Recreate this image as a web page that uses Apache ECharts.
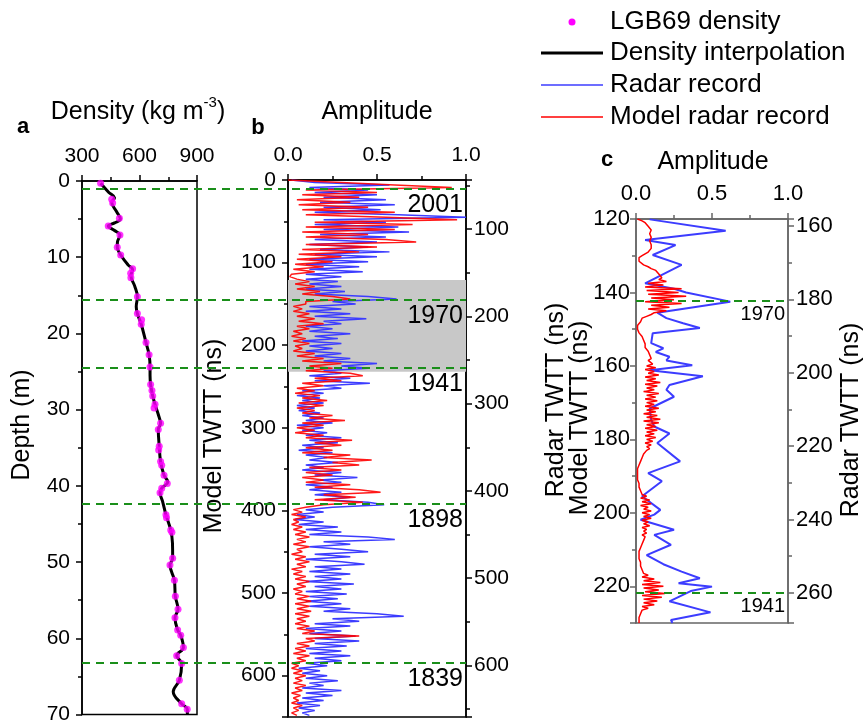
<!DOCTYPE html>
<html><head><meta charset="utf-8">
<script src="https://cdn.jsdelivr.net/npm/echarts@6/dist/echarts.min.js"></script>
<style>html,body{margin:0;padding:0;background:#fff}#chart{width:866px;height:725px}</style>
</head><body><div id="chart"></div>
<script>
const FONT = '"Liberation Sans", Arial, sans-serif';

// ---------- Panel a: density ----------
const dotDensity = [397,455,460,495,437,498,484,502,564,554,555,589,589,611,609,634,650,655,658,665,669,681,676,710,698,703,700,710,716,728,745,716,707,738,741,763,769,773,759,782,787,801,785,799,815,829,794,820,808,820,849];
const dotDepth   = [0.3,2.4,2.9,4.9,5.9,7.1,8.7,9.7,11.5,12.1,12.7,15.2,17.4,18.2,18.8,21.2,22.8,24.4,26.7,27.5,28.2,29.3,29.8,31.8,32.6,34.8,35.3,36.8,37.3,38.6,39.7,40.3,40.9,43.8,44.2,45.8,46.1,49.5,50.4,52.4,54.5,56.2,57.3,58.9,59.6,61.2,62.3,63.3,65.5,68.6,69.3];
const lineDensity = [397,440,470,455,480,500,470,437,470,498,485,484,502,540,564,555,575,589,583,589,609,634,650,655,655,658,669,681,700,710,698,703,710,728,748,716,707,720,738,763,772,773,759,782,787,801,785,799,815,829,794,820,808,776,820,849,850];
const lineDepth   = [0.3,1.5,2.2,2.8,4.0,5.0,5.5,5.9,6.5,7.1,8.0,8.7,9.7,11.0,11.6,12.4,13.8,15.2,16.5,17.4,18.8,21.2,22.8,24.4,25.5,26.7,28.2,29.3,30.8,31.8,32.6,34.8,36.8,38.6,39.5,40.3,40.9,42.0,43.8,45.8,47.5,49.5,50.4,52.4,54.5,56.2,57.3,58.9,59.6,61.2,62.3,63.3,65.5,67.0,68.6,69.3,70.0];

// ---------- Panel b: amplitude vs model TWTT (sampled every 3 ns from 0 ns) ----------
const bTimeStep = 3;
const bRadar = [
 0.02,0.15,0.57,0.12,0.45,0.15,0.5,0.2,0.55,0.18,
 0.6,0.2,0.52,0.15,0.62,1.0,0.2,0.55,0.15,0.62,
 0.2,0.68,0.18,0.55,0.15,0.5,0.12,0.45,0.18,0.57,
 0.15,0.5,0.12,0.45,0.1,0.4,0.12,0.42,0.1,0.3,
 0.1,0.28,0.12,0.3,0.1,0.32,0.15,0.45,0.61,0.25,
 0.38,0.12,0.3,0.1,0.35,0.15,0.44,0.2,0.3,0.1,
 0.25,0.12,0.35,0.15,0.28,0.08,0.3,0.12,0.25,0.1,
 0.3,0.15,0.35,0.2,0.5,0.3,0.45,0.2,0.3,0.12,
 0.35,0.15,0.46,0.2,0.3,0.08,0.2,0.05,0.18,0.08,
 0.2,0.05,0.15,0.06,0.18,0.08,0.2,0.1,0.25,0.05,
 0.2,0.08,0.22,0.1,0.3,0.12,0.28,0.08,0.2,0.06,
 0.25,0.1,0.22,0.12,0.28,0.1,0.2,0.08,0.3,0.15,
 0.39,0.18,0.3,0.1,0.25,0.12,0.3,0.15,0.35,0.2,
 0.45,0.54,0.25,0.1,0.2,0.05,0.15,0.04,0.2,0.06,
 0.28,0.1,0.3,0.12,0.45,0.6,0.2,0.35,0.12,0.3,
 0.45,0.15,0.35,0.1,0.3,0.43,0.15,0.3,0.12,0.35,
 0.15,0.3,0.1,0.37,0.15,0.3,0.1,0.33,0.12,0.28,
 0.1,0.3,0.12,0.35,0.2,0.5,0.65,0.25,0.4,0.15,
 0.35,0.1,0.3,0.12,0.38,0.15,0.4,0.15,0.33,0.1,
 0.3,0.12,0.35,0.15,0.3,0.1,0.22,0.06,0.18,0.08,
 0.22,0.1,0.28,0.12,0.2,0.08,0.3,0.1,0.25,0.08,
 0.2,0.05,0.18,0.06,0.15,0.08,0.12];
const bModel = [
 0.0,0.3,0.6,0.92,0.1,0.5,0.08,0.4,0.05,0.35,
 0.06,0.45,0.08,0.6,0.1,0.55,0.95,0.15,0.7,0.1,
 0.6,0.08,0.45,0.1,0.55,0.72,0.1,0.5,0.08,0.4,
 0.06,0.3,0.05,0.25,0.04,0.2,0.03,0.15,0.02,0.01,
 0.05,0.12,0.04,0.15,0.05,0.18,0.08,0.25,0.35,0.1,
 0.1,0.03,0.08,0.03,0.12,0.05,0.15,0.06,0.2,0.05,
 0.12,0.03,0.08,0.02,0.1,0.03,0.12,0.04,0.08,0.03,
 0.15,0.05,0.2,0.08,0.3,0.12,0.25,0.1,0.35,0.42,
 0.15,0.3,0.08,0.2,0.05,0.15,0.04,0.18,0.08,0.22,
 0.06,0.2,0.05,0.15,0.08,0.25,0.12,0.32,0.08,0.2,
 0.05,0.15,0.04,0.2,0.1,0.36,0.15,0.3,0.1,0.25,
 0.08,0.35,0.2,0.47,0.25,0.4,0.12,0.3,0.1,0.25,
 0.08,0.2,0.1,0.35,0.15,0.4,0.52,0.2,0.38,0.15,
 0.42,0.2,0.1,0.03,0.08,0.02,0.1,0.03,0.06,0.02,
 0.08,0.03,0.1,0.04,0.12,0.05,0.1,0.03,0.12,0.05,
 0.08,0.02,0.1,0.04,0.12,0.05,0.1,0.02,0.08,0.03,
 0.1,0.04,0.12,0.05,0.1,0.03,0.08,0.04,0.12,0.05,
 0.13,0.04,0.12,0.05,0.13,0.04,0.12,0.05,0.1,0.04,
 0.12,0.05,0.15,0.08,0.4,0.1,0.15,0.05,0.12,0.04,
 0.1,0.03,0.12,0.05,0.1,0.02,0.06,0.02,0.08,0.03,
 0.1,0.04,0.08,0.03,0.1,0.04,0.08,0.02,0.07,0.03,
 0.06,0.02,0.08,0.03,0.06,0.02,0.05];

// ---------- Panel c: zoom 120-230 ns ----------
const cRadarTime = [120.1,123.2,125.7,127.1,129.8,132.5,137.5,139,140,142.5,145.5,147,148.4,149.7,151.1,153.8,155.2,156.2,157.5,158.5,159.8,161.2,162.8,165.2,166.5,168.4,171.6,174.7,176.5,178.4,181,186,189.2,191.4,195.5,199.2,200.5,201.9,204.6,206,208.7,211.5,214,216,217.8,219.2,220.1,221.3,224.1,227.1,229.2,230];
const cRadarAmp  = [0.09,0.59,0.06,0.26,0.11,0.3,0.06,0.25,0.33,0.62,0.14,0.2,0.31,0.42,0.11,0.1,0.18,0.13,0.22,0.2,0.37,0.09,0.44,0.22,0.2,0.25,0.09,0.1,0.12,0.22,0.14,0.29,0.08,0.17,0.04,0.16,0.12,0.03,0.25,0.12,0.23,0.07,0.18,0.3,0.42,0.28,0.5,0.36,0.22,0.49,0.23,0.24];
const cModelStart = 120, cModelStep = 0.5;
const cModelAmp = [
 0.01,0.04,0.06,0.07,0.08,0.09,0.1,0.09,0.09,0.1,
 0.1,0.09,0.09,0.1,0.1,0.11,0.1,0.09,0.08,0.06,
 0.04,0.02,0.01,0.02,0.03,0.05,0.08,0.1,0.13,0.14,
 0.15,0.16,0.17,0.15,0.2,0.08,0.18,0.06,0.3,0.07,
 0.28,0.08,0.33,0.1,0.25,0.06,0.3,0.1,0.22,0.08,
 0.2,0.12,0.1,0.07,0.04,0.03,0.03,0.02,0.01,0.01,
 0.01,0.01,0.02,0.03,0.04,0.04,0.05,0.05,0.06,0.06,
 0.06,0.07,0.08,0.08,0.09,0.09,0.1,0.08,0.09,0.11,
 0.07,0.13,0.06,0.12,0.08,0.15,0.06,0.13,0.07,0.16,
 0.06,0.14,0.07,0.12,0.05,0.15,0.07,0.13,0.06,0.14,
 0.07,0.12,0.06,0.15,0.07,0.13,0.05,0.14,0.07,0.16,
 0.05,0.15,0.07,0.13,0.06,0.14,0.07,0.12,0.06,0.13,
 0.07,0.11,0.06,0.1,0.07,0.09,0.07,0.06,0.05,0.04,
 0.04,0.03,0.03,0.02,0.02,0.02,0.01,0.01,0.01,0.01,
 0.01,0.01,0.01,0.02,0.02,0.02,0.02,0.03,0.03,0.04,
 0.04,0.07,0.03,0.09,0.04,0.1,0.03,0.08,0.05,0.1,
 0.04,0.09,0.05,0.1,0.04,0.08,0.05,0.09,0.04,0.07,
 0.05,0.07,0.04,0.06,0.05,0.05,0.04,0.04,0.03,0.03,
 0.02,0.02,0.02,0.02,0.02,0.02,0.02,0.03,0.03,0.03,
 0.03,0.04,0.04,0.05,0.08,0.04,0.12,0.05,0.16,0.04,
 0.18,0.05,0.15,0.06,0.19,0.04,0.17,0.05,0.14,0.05,
 0.12,0.04,0.08,0.04,0.05,0.03,0.03,0.02,0.02,0.02,
 0.02];

// ---------- annotations ----------
const markerDepths = [1.0, 15.5, 24.3, 42.1, 62.8];
const markerYearsB = ['2001','1970','1941','1898','1839'];
const shadedRange = [121, 232];
const cMarkerTimes = [142.3, 221.8];
const cMarkerYears = ['1970','1941'];

const GREEN = '#1a8f1a', BLUE = '#3c3cff', RED = '#ff0000';

function ax(color, extra) {
  const base = {
    type: 'value',
    axisLine: {show: true, onZero: false, lineStyle: {color: color, width: 1.5}},
    axisTick: {show: true, inside: false, length: 6, lineStyle: {color: color, width: 1.5}},
    minorTick: {show: true, splitNumber: 2, length: 4, lineStyle: {color: color, width: 1.5}},
    splitLine: {show: false}, minorSplitLine: {show: false},
    axisLabel: {color: '#000', fontSize: 21, fontFamily: FONT}
  };
  const o = Object.assign({}, base, extra);
  if (extra.axisLabel) o.axisLabel = Object.assign({}, base.axisLabel, extra.axisLabel);
  return o;
}
const ampFmt = v => v.toFixed(1);

const chart = echarts.init(document.getElementById('chart'), null, {renderer: 'canvas'});

const option = {
  animation: false,
  backgroundColor: '#fff',
  grid: [
    {left: 82, top: 181, width: 115, height: 537, show: true, borderColor: '#000', borderWidth: 1.5, backgroundColor: 'transparent'},
    {left: 288, top: 180, width: 178, height: 537, show: true, borderColor: '#000', borderWidth: 1.5, backgroundColor: 'transparent'},
    {left: 636, top: 219, width: 152, height: 404, show: true, borderColor: '#666', borderWidth: 1.5, backgroundColor: 'transparent'},
    {left: 82, top: 181, width: 384, height: 537, show: false}
  ],
  xAxis: [
    ax('#000', {gridIndex: 0, position: 'top', min: 300, max: 900, interval: 300, axisLabel: {margin: 14}}),
    ax('#000', {gridIndex: 1, position: 'top', min: 0, max: 1, interval: 0.5, axisLabel: {margin: 14, formatter: ampFmt}}),
    ax('#666', {gridIndex: 2, position: 'top', min: 0, max: 1, interval: 0.5, axisLabel: {margin: 14, fontSize: 22, formatter: ampFmt}}),
    {gridIndex: 3, type: 'value', min: 0, max: 1, show: false}
  ],
  yAxis: [
    ax('#000', {gridIndex: 0, position: 'left', inverse: true, min: 0, max: 70, interval: 10, axisLabel: {margin: 12}}),
    ax('#000', {gridIndex: 1, position: 'left', inverse: true, min: 0, max: 650, interval: 100, axisLabel: {margin: 12, showMaxLabel: false}}),
    ax('#000', {gridIndex: 1, position: 'right', inverse: true, min: 43.8, max: 659, axisLabel: {margin: 8, showMinLabel: false, showMaxLabel: false}}),
    ax('#666', {gridIndex: 2, position: 'left', inverse: true, min: 120, max: 230, interval: 20, axisLabel: {margin: 6, fontSize: 22, showMaxLabel: false}}),
    ax('#666', {gridIndex: 2, position: 'right', inverse: true, min: 158.1, max: 268.2, axisLabel: {margin: 8, fontSize: 22, showMinLabel: false, showMaxLabel: false}}),
    {gridIndex: 3, type: 'value', inverse: true, min: 0, max: 70, show: false}
  ],
  series: [
    {type: 'line', xAxisIndex: 0, yAxisIndex: 0, z: 2, showSymbol: false, smooth: 0.4,
     lineStyle: {color: '#000', width: 3}, itemStyle: {color: '#000'},
     data: lineDensity.map((v, i) => [v, lineDepth[i]])},
    {type: 'scatter', xAxisIndex: 0, yAxisIndex: 0, z: 3, symbolSize: 7,
     itemStyle: {color: '#ff00ff'},
     data: dotDensity.map((v, i) => [v, dotDepth[i]])},
    {type: 'line', xAxisIndex: 1, yAxisIndex: 1, z: 1, data: [], showSymbol: false,
     markArea: {silent: true, itemStyle: {color: '#c8c8c8'},
       data: [[{yAxis: shadedRange[0]}, {yAxis: shadedRange[1]}]]}},
    {type: 'line', xAxisIndex: 1, yAxisIndex: 1, z: 3, showSymbol: false,
     lineStyle: {color: BLUE, width: 1.5}, itemStyle: {color: BLUE},
     data: bRadar.map((v, i) => [v, i * bTimeStep])},
    {type: 'line', xAxisIndex: 1, yAxisIndex: 1, z: 4, showSymbol: false,
     lineStyle: {color: RED, width: 1.5, opacity: 0.9}, itemStyle: {color: RED},
     data: bModel.map((v, i) => [v, i * bTimeStep])},
    {type: 'line', xAxisIndex: 2, yAxisIndex: 3, z: 3, showSymbol: false,
     lineStyle: {color: BLUE, width: 2}, itemStyle: {color: BLUE},
     data: cRadarAmp.map((v, i) => [v, cRadarTime[i]])},
    {type: 'line', xAxisIndex: 2, yAxisIndex: 3, z: 4, showSymbol: false,
     lineStyle: {color: RED, width: 1.5}, itemStyle: {color: RED},
     data: cModelAmp.map((v, i) => [v, cModelStart + i * cModelStep]),
     markLine: {silent: true, symbol: ['none', 'none'],
       lineStyle: {color: GREEN, width: 2, type: [8, 6]},
       label: {show: true, position: 'insideEndBottom', formatter: '{b}', fontSize: 20, color: '#000', fontFamily: FONT, distance: [3, 4]},
       data: cMarkerTimes.map((t, i) => ({yAxis: t, name: cMarkerYears[i]}))}},
    {type: 'line', xAxisIndex: 3, yAxisIndex: 5, z: 5, showSymbol: false, data: [],
     markLine: {silent: true, symbol: ['none', 'none'],
       lineStyle: {color: GREEN, width: 2, type: [8, 6]},
       label: {show: true, position: 'insideEndBottom', formatter: '{b}', fontSize: 25, color: '#000', fontFamily: FONT, distance: [3, 4]},
       data: markerDepths.map((d, i) => ({yAxis: d, name: markerYearsB[i]}))}}
  ],
  graphic: [
    // legend
    {type: 'circle', shape: {cx: 572, cy: 22, r: 3.5}, style: {fill: '#ff00ff'}},
    {type: 'line', shape: {x1: 541, y1: 53, x2: 603, y2: 53}, style: {stroke: '#000', lineWidth: 3}},
    {type: 'line', shape: {x1: 541, y1: 85, x2: 603, y2: 85}, style: {stroke: BLUE, lineWidth: 1.5}},
    {type: 'line', shape: {x1: 541, y1: 117, x2: 603, y2: 117}, style: {stroke: RED, lineWidth: 1.5}},
    {type: 'text', x: 610, y: 22, style: {text: 'LGB69 density', fontSize: 26, fontFamily: FONT, fill: '#000', align: 'left', verticalAlign: 'middle'}},
    {type: 'text', x: 610, y: 53, style: {text: 'Density interpolation', fontSize: 26, fontFamily: FONT, fill: '#000', align: 'left', verticalAlign: 'middle'}},
    {type: 'text', x: 610, y: 85, style: {text: 'Radar record', fontSize: 26, fontFamily: FONT, fill: '#000', align: 'left', verticalAlign: 'middle'}},
    {type: 'text', x: 610, y: 117, style: {text: 'Model radar record', fontSize: 26, fontFamily: FONT, fill: '#000', align: 'left', verticalAlign: 'middle'}},
    // panel letters
    {type: 'text', x: 23, y: 127, style: {text: 'a', fontSize: 22, fontWeight: 'bold', fontFamily: FONT, fill: '#000', align: 'center', verticalAlign: 'middle'}},
    {type: 'text', x: 258, y: 128, style: {text: 'b', fontSize: 22, fontWeight: 'bold', fontFamily: FONT, fill: '#000', align: 'center', verticalAlign: 'middle'}},
    {type: 'text', x: 607, y: 160, style: {text: 'c', fontSize: 22, fontWeight: 'bold', fontFamily: FONT, fill: '#000', align: 'center', verticalAlign: 'middle'}},
    // axis titles
    {type: 'text', x: 138, y: 110, style: {text: '{n|Density (kg m}{s|-3}{n|)}', fill: '#000', align: 'center', verticalAlign: 'middle',
      rich: {n: {fontSize: 25, fontFamily: FONT, lineHeight: 30, verticalAlign: 'bottom'}, s: {fontSize: 15, fontFamily: FONT, lineHeight: 30, verticalAlign: 'top'}}}},
    {type: 'text', x: 377, y: 112, style: {text: 'Amplitude', fontSize: 25, fontFamily: FONT, fill: '#000', align: 'center', verticalAlign: 'middle'}},
    {type: 'text', x: 713, y: 162, style: {text: 'Amplitude', fontSize: 25, fontFamily: FONT, fill: '#000', align: 'center', verticalAlign: 'middle'}},
    {type: 'text', x: 22, y: 425, rotation: Math.PI / 2, style: {text: 'Depth (m)', fontSize: 25, fontFamily: FONT, fill: '#000', align: 'center', verticalAlign: 'middle'}},
    {type: 'text', x: 214, y: 436, rotation: Math.PI / 2, style: {text: 'Model TWTT (ns)', fontSize: 25, fontFamily: FONT, fill: '#000', align: 'center', verticalAlign: 'middle'}},
    {type: 'text', x: 556, y: 400, rotation: Math.PI / 2, style: {text: 'Radar TWTT (ns)', fontSize: 25, fontFamily: FONT, fill: '#000', align: 'center', verticalAlign: 'middle'}},
    {type: 'text', x: 580, y: 418, rotation: Math.PI / 2, style: {text: 'Model TWTT (ns)', fontSize: 25, fontFamily: FONT, fill: '#000', align: 'center', verticalAlign: 'middle'}},
    {type: 'text', x: 851, y: 420, rotation: Math.PI / 2, style: {text: 'Radar TWTT (ns)', fontSize: 25, fontFamily: FONT, fill: '#000', align: 'center', verticalAlign: 'middle'}}
  ]
};
chart.setOption(option);
</script></body></html>
